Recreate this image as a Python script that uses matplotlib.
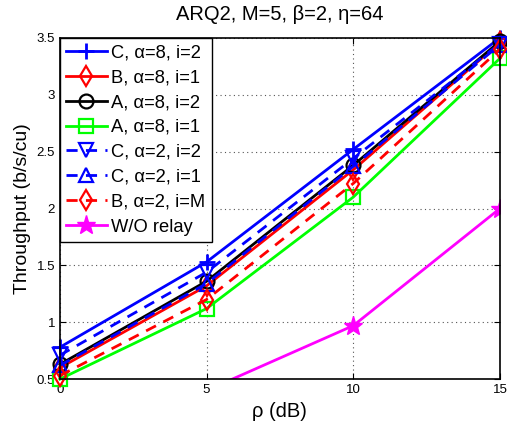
import matplotlib.pyplot as plt
from matplotlib.ticker import FormatStrFormatter

# SNR points (dB)
rho = [0, 5, 10, 15]

# throughput per scheme (b/s/cu)
c_a8_i2 = [0.78, 1.53, 2.52, 3.50]
b_a8_i1 = [0.60, 1.32, 2.34, 3.46]
a_a8_i2 = [0.63, 1.36, 2.38, 3.47]
a_a8_i1 = [0.50, 1.12, 2.10, 3.32]
c_a2_i2 = [0.71, 1.44, 2.44, 3.45]
c_a2_i1 = [0.62, 1.34, 2.37, 3.44]
b_a2_im = [0.53, 1.20, 2.22, 3.40]
no_relay = [0.10, 0.40, 0.97, 2.00]

labels = ["C, \u03b1=8, i=2", "B, \u03b1=8, i=1", "A, \u03b1=8, i=2", "A, \u03b1=8, i=1",
          "C, \u03b1=2, i=2", "C, \u03b1=2, i=1", "B, \u03b1=2, i=M", "W/O relay"]

plt.rcParams['font.family'] = ['Liberation Sans', 'DejaVu Sans']


def main():
    fig = plt.figure(figsize=(5.07, 4.26), dpi=100)
    ax = fig.add_axes([0.118, 0.110, 0.868, 0.801])

    lw = 2.0
    ms = 10
    series = [
        (c_a8_i2, '#0000ff', '-', '+', labels[0]),
        (b_a8_i1, '#ff0000', '-', 'd', labels[1]),
        (a_a8_i2, 'black', '-', 'o', labels[2]),
        (a_a8_i1, '#00ff00', '-', 's', labels[3]),
        (c_a2_i2, '#0000ff', '--', 'v', labels[4]),
        (c_a2_i1, '#0000ff', '--', '^', labels[5]),
        (b_a2_im, '#ff0000', '--', 'd', labels[6]),
    ]
    for vals, col, ls, mk, lab in series:
        ax.plot(rho, vals, color=col, ls=ls, lw=lw, marker=mk,
                ms=ms + 2 if mk == '+' else ms,
                mfc='none', mew=2 if mk == '+' else 1.6, label=lab, clip_on=False,
                dashes=(4, 3) if ls == '--' else (None, None))
    ax.plot(rho, no_relay, color='#ff00ff', lw=lw, marker='*', ms=14,
            mfc='#ff00ff', mec='#ff00ff', label=labels[7])

    ax.set_xlim(0, 15)
    ax.set_ylim(0.5, 3.5)
    ax.set_xticks([0, 5, 10, 15])
    ax.set_yticks([0.5, 1, 1.5, 2, 2.5, 3, 3.5])
    ax.yaxis.set_major_formatter(FormatStrFormatter('%g'))
    ax.tick_params(direction='in', labelsize=9.5, top=True, right=True, length=4)
    ax.grid(True, ls=(0, (1, 3)), color='#555555', lw=0.8)
    for s in ax.spines.values():
        s.set_linewidth(1.2)

    ax.set_title("ARQ2, M=5, \u03b2=2, \u03b7=64", fontsize=14.5, pad=13)
    ax.set_xlabel("\u03c1 (dB)", fontsize=14.5, labelpad=4)
    ax.set_ylabel("Throughput (b/s/cu)", fontsize=14, labelpad=4)

    leg = ax.legend(loc='upper left', borderaxespad=0, fontsize=13.2,
                    handlelength=2.2, handletextpad=0.25, labelspacing=0.43,
                    borderpad=0.35, fancybox=False, framealpha=1, edgecolor='black')
    leg.get_frame().set_linewidth(1.0)

    fig.savefig('out.png', dpi=100)


if __name__ == "__main__":
    main()
